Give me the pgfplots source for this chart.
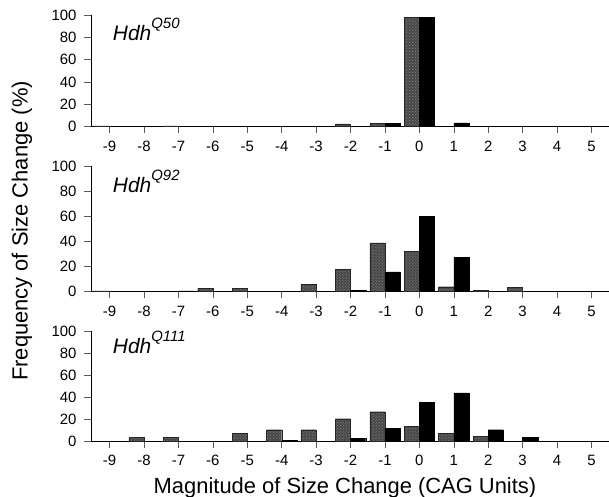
\documentclass[border=0pt]{standalone}
\usepackage{fontspec}
\setmainfont{Liberation Sans}
\usepackage{pgfplots}
\pgfplotsset{compat=1.18}
\usetikzlibrary{patterns}
\pgfplotsset{
  panel/.style={
    scale only axis, width=518bp,
    anchor=south west,
    xmin=-9.54, xmax=5.51, ymin=0, ymax=100,
    axis x line*=bottom, axis y line*=left,
    axis line style={line width=0.7pt},
    xtick={-9,-8,-7,-6,-5,-4,-3,-2,-1,0,1,2,3,4,5},
    ytick={0,20,40,60,80,100},
    tick align=outside, major tick length=7bp,
    tick style={line width=0.5pt, black!65},
    ticklabel style={font=\fontsize{15}{17}\selectfont},
    yticklabel style={xshift=-4bp},
    xticklabel style={yshift=-4bp},
    /pgf/number format/assume math mode=true,
    clip=false,
  },
  hatch/.style={ybar, bar width=0.44, bar shift=-0.22, draw=black!85, line width=0.3pt,
    fill=black!72, postaction={pattern=crosshatch dots, pattern color=white!55!black}},
  solid/.style={ybar, bar width=0.44, bar shift=0.22, draw=black, line width=0.3pt, fill=black},
}
\newcommand{\hdh}[1]{{\fontsize{21}{24}\selectfont\itshape Hdh\raisebox{12bp}{\fontsize{15}{17}\selectfont #1}}}
\begin{document}
\begin{tikzpicture}
\useasboundingbox (0,0) rectangle (609bp,497bp);
% Panel 1: Hdh Q50
\begin{axis}[panel, at={(91bp,370.5bp)}, height=111.5bp]
\addplot[hatch] coordinates {(-9,0.5) (-7,0.5) (-2,2.4) (-1,2.6) (0,97.8)};
\addplot[solid] coordinates {(-7,0.4) (-1,2.6) (0,97.8) (1,3.2) (4,0.4)};
\node[anchor=base west, inner sep=0pt] at (rel axis cs:0.042,0.767) {\hdh{Q50}};
\end{axis}
% Panel 2: Hdh Q92
\begin{axis}[panel, at={(91bp,205.5bp)}, height=125bp]
\addplot[hatch] coordinates {(-9,0.4) (-6,2.5) (-5,2.5) (-3,5.5) (-2,17.8) (-1,38.9) (0,32.0) (1,3.8) (2,1.0) (3,3.3)};
\addplot[solid] coordinates {(-7,0.5) (-2,0.8) (-1,15.6) (0,60.3) (1,27.4)};
\node[anchor=base west, inner sep=0pt] at (rel axis cs:0.042,0.795) {\hdh{Q92}};
\end{axis}
% Panel 3: Hdh Q111
\begin{axis}[panel, at={(91bp,56bp)}, height=110bp]
\addplot[hatch] coordinates {(-8,3.1) (-7,3.1) (-5,6.9) (-4,10.3) (-3,10.3) (-2,20.3) (-1,26.6) (0,13.4) (1,7.2) (2,4.0)};
\addplot[solid] coordinates {(-4,0.6) (-2,2.5) (-1,11.6) (0,35.3) (1,43.8) (2,10.3) (3,3.4)};
\node[anchor=base west, inner sep=0pt] at (rel axis cs:0.042,0.795) {\hdh{Q111}};
\end{axis}
\node[rotate=90, font=\fontsize{22}{24}\selectfont] at (22bp,266bp) {Frequency of Size Change (\%)};
\node[anchor=base, font=\fontsize{22}{24}\selectfont, inner sep=0pt] at (345bp,3.5bp) {Magnitude of Size Change (CAG Units)};
\end{tikzpicture}
\end{document}
